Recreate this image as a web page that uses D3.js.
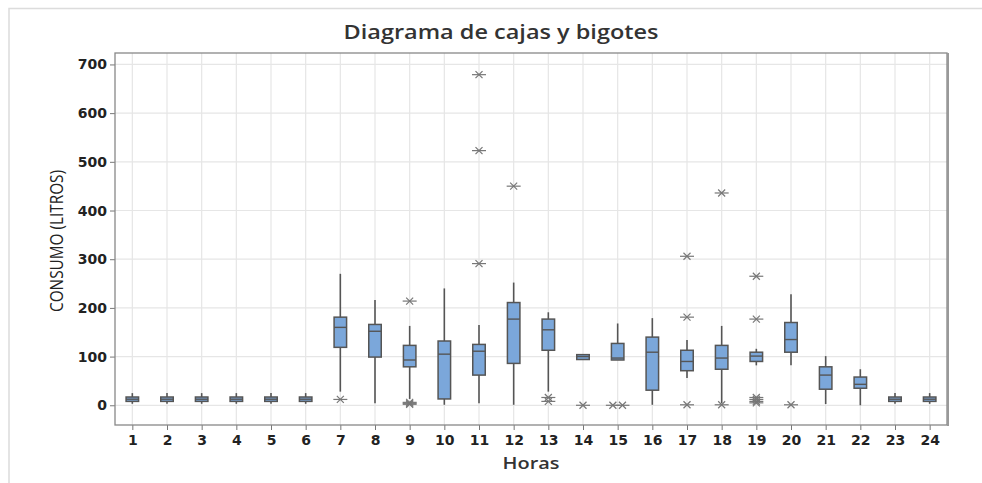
<!DOCTYPE html>
<html>
<head>
<meta charset="utf-8">
<script src="https://cdn.jsdelivr.net/npm/d3@7"></script>
<style>
    body { margin: 0; background: #fff; }
    svg { display: block; }
</style>
</head>
<body>
<div id="chart"></div>
<script>
// values (litros por hora)
const hours = [1, 2, 3, 4, 5, 6, 7, 8, 9, 10, 11, 12, 13, 14, 15, 16, 17, 18, 19, 20, 21, 22, 23, 24];
const whiskerLow = [3, 3, 3, 3, 3, 3, 28, 4, 13, 1, 4, 1, 28, 94, 93, 1, 56, 4, 82, 82, 2.5, 0, 3, 3];
const q1 = [8, 8, 8, 8, 8, 8, 119, 99, 79, 13, 62, 86, 113, 94, 93, 31, 71, 74, 90, 109, 33, 35, 8, 8];
const medians = [12.5, 12.5, 12.5, 12.5, 12.5, 12.5, 160, 152, 93, 105, 111, 177, 155, 100, 97, 109, 90, 97, 101, 135, 62, 43, 12.5, 12.5];
const q3 = [17, 17, 17, 17, 17, 17, 181, 166, 123, 132, 125, 211, 177, 104, 127, 140, 113, 123, 109, 170, 79, 58, 17, 17];
const whiskerHigh = [25, 25, 25, 25, 25, 25, 270, 216, 163, 240, 165, 252, 191, 104, 168, 179, 134, 163, 116, 228, 101, 74, 25, 25];
const outliers = [
    [], [], [], [], [], [], [12], [], [214, 2, 4, 6], [], [679, 523, 291], [450],
    [16, 8], [0], [0, 0], [], [306, 181, 1], [436, 1], [265, 177, 16, 12, 8, 5], [1], [], [], [], []
];
const yTicks = [0, 100, 200, 300, 400, 500, 600, 700];

const W = 982, H = 483;
const margin = { top: 53, right: 35, bottom: 58, left: 115 };
const innerW = W - margin.left - margin.right;
const innerH = H - margin.top - margin.bottom;

const svg = d3.select("#chart").append("svg")
    .attr("width", W)
    .attr("height", H);

// light outer frame
svg.append("path")
    .attr("d", `M9,${H} V8.5 H${W}`)
    .attr("fill", "none")
    .attr("stroke", "#dcdcdc")
    .attr("stroke-width", 1.5);

const g = svg.append("g")
    .attr("transform", `translate(${margin.left},${margin.top})`);

const x = d3.scaleLinear().domain([0.5, 24.5]).range([0, innerW]);
const y = d3.scaleLinear().domain([-40.5, 723.5]).range([innerH, 0]);

// grid
g.append("g").selectAll("line.vgrid")
    .data(hours)
    .join("line")
    .attr("x1", d => x(d)).attr("x2", d => x(d))
    .attr("y1", 0).attr("y2", innerH)
    .attr("stroke", "#e6e6e6").attr("stroke-width", 1.2);

g.append("g").selectAll("line.hgrid")
    .data(yTicks)
    .join("line")
    .attr("x1", 0).attr("x2", innerW)
    .attr("y1", d => y(d)).attr("y2", d => y(d))
    .attr("stroke", "#e6e6e6").attr("stroke-width", 1.2);

// axes
const yAxis = g.append("g")
    .call(d3.axisLeft(y).tickValues(yTicks).tickSize(5).tickPadding(3));
const xAxis = g.append("g")
    .attr("transform", `translate(0,${innerH})`)
    .call(d3.axisBottom(x).tickValues(hours).tickSize(5).tickPadding(5));

[yAxis, xAxis].forEach(a => {
    a.select(".domain").remove();
    a.selectAll(".tick line").attr("stroke", "#777");
    a.selectAll(".tick text")
        .attr("fill", "#222")
        .style("font-family", "DejaVu Sans")
        .style("font-size", "14px")
        .style("font-weight", "600");
});

// plot frame
g.append("rect")
    .attr("x", 0).attr("y", 0)
    .attr("width", innerW).attr("height", innerH)
    .attr("fill", "none")
    .attr("stroke", "#888")
    .attr("stroke-width", 1.3);
g.append("line")
    .attr("x1", innerW + 1).attr("x2", innerW + 1)
    .attr("y1", 0).attr("y2", innerH + 1)
    .attr("stroke", "#999").attr("stroke-width", 2);

// boxes
const boxW = 12.5;
const boxData = hours.map((h, i) => ({
    h, lo: whiskerLow[i], q1: q1[i], med: medians[i], q3: q3[i], hi: whiskerHigh[i], out: outliers[i]
}));

const boxes = g.append("g").selectAll("g.box")
    .data(boxData)
    .join("g")
    .attr("class", "box");

boxes.append("line")
    .attr("x1", d => x(d.h)).attr("x2", d => x(d.h))
    .attr("y1", d => y(d.hi)).attr("y2", d => y(d.q3))
    .attr("stroke", "#555").attr("stroke-width", 1.6);
boxes.append("line")
    .attr("x1", d => x(d.h)).attr("x2", d => x(d.h))
    .attr("y1", d => y(d.q1)).attr("y2", d => y(d.lo))
    .attr("stroke", "#555").attr("stroke-width", 1.6);

boxes.append("rect")
    .attr("x", d => x(d.h) - boxW / 2)
    .attr("y", d => y(d.q3))
    .attr("width", boxW)
    .attr("height", d => Math.max(1, y(d.q1) - y(d.q3)))
    .attr("fill", "#7ba7da")
    .attr("stroke", "#555")
    .attr("stroke-width", 1.5);

boxes.append("line")
    .attr("x1", d => x(d.h) - boxW / 2).attr("x2", d => x(d.h) + boxW / 2)
    .attr("y1", d => y(d.med)).attr("y2", d => y(d.med))
    .attr("stroke", "#555").attr("stroke-width", 1.4);

// outliers as asterisks, ties spread sideways
const outPts = [];
boxData.forEach(d => {
    const counts = d3.rollup(d.out, v => v.length, v => v);
    const seen = new Map();
    d.out.forEach(v => {
        const n = counts.get(v);
        const k = seen.get(v) || 0;
        seen.set(v, k + 1);
        outPts.push({ h: d.h, v, dx: n > 1 ? (k - (n - 1) / 2) * 9.6 : 0 });
    });
});

const star = g.append("g").selectAll("g.star")
    .data(outPts)
    .join("g")
    .attr("transform", d => `translate(${x(d.h) + d.dx},${y(d.v)})`)
    .attr("stroke", "#777")
    .attr("stroke-width", 1.2);
star.append("line").attr("x1", -7).attr("x2", 7).attr("y1", 0).attr("y2", 0);
star.append("line").attr("x1", -3.5).attr("x2", 3.5).attr("y1", -3.5).attr("y2", 3.5);
star.append("line").attr("x1", -3.5).attr("x2", 3.5).attr("y1", 3.5).attr("y2", -3.5);

// titles
svg.append("text")
    .attr("x", 501)
    .attr("y", 39)
    .attr("text-anchor", "middle")
    .attr("textLength", 315)
    .attr("lengthAdjust", "spacingAndGlyphs")
    .style("font-family", "Open Sans")
    .style("font-size", "19px")
    .style("font-weight", "600")
    .attr("fill", "#333")
    .text("Diagrama de cajas y bigotes");

svg.append("text")
    .attr("x", margin.left + innerW / 2)
    .attr("y", 469)
    .attr("text-anchor", "middle")
    .attr("textLength", 57)
    .attr("lengthAdjust", "spacingAndGlyphs")
    .style("font-family", "Open Sans")
    .style("font-size", "16px")
    .style("font-weight", "600")
    .attr("fill", "#333")
    .text("Horas");

svg.append("text")
    .attr("transform", "translate(63,241) rotate(-90)")
    .attr("text-anchor", "middle")
    .attr("textLength", 142)
    .attr("lengthAdjust", "spacingAndGlyphs")
    .style("font-family", "Open Sans")
    .style("font-size", "18px")
    .attr("fill", "#222")
    .text("CONSUMO (LITROS)");
</script>
</body>
</html>
